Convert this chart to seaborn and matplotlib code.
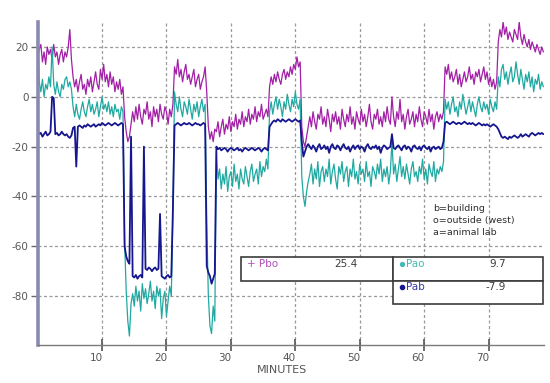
import numpy as np
import pandas as pd
import matplotlib
matplotlib.use("Agg")
import matplotlib.pyplot as plt
import seaborn as sns
from matplotlib.patches import Rectangle
from matplotlib.transforms import ScaledTranslation

# ---- data (one sample every 0.25 minute) ----
pbo = [
    15, 19, 21, 14, 18, 13, 20, 17, 19, 15, 21, 16, 18, 13, 17, 19, 14, 18, 16, 20, 27, 15,
    8, 4, 7, 2, 6, 9, 3, 5, 1, 7, 4, 8, 2, 6, 10, 5, 3,
    11, 7, 13, 6, 9, 4, 10, 5, 8, 2, 6, 3, 7, 1, 4,
    -8, -14, -18, -16, -11,
    -6, -10, -4, -9, -3, -8, -11, -5, -7, -2, -9, -6, -12, -4, -8, -5, -10, -3, -7, -9,
    -4, -6, -11, -5, -8, -3,
    12, 9, 15, 8, 11, 6, 10, 13, 7, 9, 5, 8, 11, 4, 7, 9, 3, 6, 8, 12,
    2, -12, -17, -14, -18, -13,
    -14, -10, -16, -12, -9, -15, -11, -13, -8, -14, -10, -12, -7, -13, -9, -11, -6, -12,
    -8, -10, -5, -11, -7, -9, -4, -10, -6, -8, -3, -9, -7, -5, -8,
    4, 8, 5, 9, 6, 10, 7, 5, 9, 11, 7, 10, 8, 12, 9, 13, 11, 16, 12, 14,
    -12, -18, -20, -16, -12,
    -8, -12, -6, -10, -13, -7, -9, -4, -11, -8,
    -12, -5, -9, -14, -7, -10, -6, -11, -8, -13,
    -5, -9, -12, -7, -10, -4, -11, -8, -13, -6,
    -9, -11, -5, -10, -7, -12, -8, -3, -10, -13,
    -7, -9, -5, -11, -8, -12, -6, -10, -4, -9,
    -11, 0, -8, -12, -6, -9, -1, -10, -7, -13,
    -8, -5, -11, -9, -6, -12, -7, -10, -4, -9,
    -12, -6, -8, -11, -5, -10, -7, -13, -8, -6,
    -10, -7, -9,
    -6, 12, 9, 13, 7, 10, 6, 8, 11, 5, 9, 4, 7, 10, 6, 8, 12, 7, 9, 5, 10,
    8, 11, 6, 9, 12, 7, 10, 5, 8, 4, 7, 3, 6,
    22, 27, 24, 30, 25, 28, 23, 26, 24, 22, 27, 25, 23, 30, 24, 21, 25, 22, 20, 23,
    19, 22, 20, 18, 21, 19, 17, 20, 18,
]

pao = [
    27, 6, 2, 7, 0, 5, 3, 8, 4, 20, 5, 1, 6, 2, 0, 5, 3, 7, 8, 4, 6, 3,
    -4, -8, -3, -7, -9, -5, -2, -6, -8, -4, -1, -6, -3, -7, -5, -2, -8, -4, 0, -5,
    -3, -6, -2, -7, -4, -8, -3, -6, -5, -9, -4, -6,
    -58, -78, -90, -96, -83,
    -79, -84, -76, -82, -78, -86, -75, -81, -77, -83, -79, -74, -82, -78, -85, -76,
    -80, -77, -89, -81, -78, -88, -82, -76, -80,
    -45,
    2, -3, -6, 0, -5, -8, -2, -4, -7, -1, -5, -9, -3, -6, -2, -8, -4, -1, -6, -3,
    -50, -80, -92, -95, -84, -90,
    -22, -33, -29, -37, -31, -35, -28, -38, -32, -30, -36, -27, -34, -31, -37, -29,
    -33, -35, -28, -32, -36, -30, -27, -34, -31, -29, -35, -26, -32, -28, -30, -25, -29,
    -6, -2, -7, -3, 0, -5, -1, -4, -8, -2, -5, 1, -3, -6, -1, -4, 2, -3, -5, -1,
    -32, -40, -44, -38, -34,
    -31, -27, -35, -29, -33, -26, -36, -30, -28, -34,
    -29, -32, -25, -35, -30, -27, -33, -37, -28, -31,
    -26, -34, -30, -28, -36, -29, -32, -25, -33, -30,
    -35, -27, -31, -29, -34, -26, -32, -30, -36, -28,
    -30, -33, -27, -31, -25, -34, -29, -32, -28, -35,
    -30, -18, -31, -27, -34, -29, -24, -32, -28, -33,
    -27, -31, -35, -29, -26, -32, -30, -34, -28, -31,
    -25, -33, -29, -35, -27, -30, -32, -26, -34, -29,
    -31, -28, -30,
    -26,
    -1, -5, -2, -7, -3, 0, -6, -4, -8, -2, -5, 1, -3, -7, -4, -1, -6, -2, -5, -8,
    -3, 0, -4, -6, -2, -5, -3, -7, -1, -4, -6, -2, -5,
    8, 4, 11, 13, 7, 10, 5, 9, 12, 6, 8, 14, 9, 5, 11, 7, 3, 9, 6, 10,
    4, 8, 2, 7, 5, 9, 3, 6, 4,
]

pab = [
    -13, -15, -14.5, -16, -15, -14, -15.5, -15, -14,
    0, -0.5,
    -15, -14.5, -15.5, -15, -14, -15, -15.5, -15, -16, -16.5, -15.5,
    -12.5, -12, -28, -12, -11.5, -12, -12.5, -11.5, -12, -11,
    -11.5, -12, -11.5, -11, -12, -11.5, -11, -11.5, -10.5, -11,
    -11.5, -11, -10.5, -11, -11.5, -11, -10.5, -11, -11.5, -11, -10.5, -11,
    -60, -64, -66, -67,
    -16,
    -72, -72.5, -71.5, -73, -72, -71.5, -72.5,
    -20,
    -69, -69.5, -68.5, -69, -70, -69, -68.5, -69.5, -69,
    -47,
    -72, -72.5, -73, -72, -71.5, -72.5, -72,
    -45,
    -11.5, -11, -10.5, -11, -11.5, -11, -10.5, -11, -11, -10.5,
    -11, -11.5, -11, -10.5, -11, -11, -11.5, -11, -10.5, -11,
    -68, -70.5, -72, -75, -73, -71,
    -20, -21, -20.5, -21.5, -21, -20.5, -21, -22, -21, -20.5,
    -21, -21.5, -21, -20.5, -21.5, -21, -22, -21, -20.5, -21,
    -21.5, -21, -20.5, -21, -21.5, -21, -20.5, -21, -22, -21, -20.5, -21, -21.5,
    -12, -11, -10, -9.5, -10, -9, -9.5, -10, -9, -9.5,
    -10, -9.5, -9, -9.5, -10, -9.5, -9, -9.5, -10, -9.5,
    -18, -24, -22, -20, -19,
    -20, -21, -19.5, -20.5, -22, -20, -19, -21, -20.5, -19.5,
    -21, -20, -22.5, -20, -19, -20.5, -21, -19.5, -20, -21.5,
    -20, -19, -20.5, -21, -20, -22, -20.5, -19.5, -21, -20,
    -19.5, -21, -20, -20.5, -22, -20, -19, -20.5, -21, -20,
    -20.5, -19.5, -21, -20, -22.5, -20.5, -19.5, -20, -21, -20.5,
    -20, -15, -20.5, -21, -20, -19.5, -20.5, -21.5, -20, -19.5,
    -21, -20, -20.5, -22, -20, -19.5, -20.5, -21, -20, -21.5,
    -20, -19.5, -20.5, -21, -20, -22, -20.5, -20, -21, -20.5,
    -20, -21, -20.5,
    -18,
    -10.5, -10, -10.5, -11, -10.5, -10, -10.5, -11, -10.5, -10.5,
    -11, -10.5, -10, -10.5, -11, -10.5, -11, -10.5, -11, -11.5,
    -11, -10.5, -11, -11.5, -11, -11.5, -11, -11.5, -12, -11.5, -11, -11.5, -12,
    -13, -14.5, -16, -16.5, -16, -16.5, -17, -16, -16.5, -16,
    -15.5, -16, -16.5, -16, -15, -16, -15.5, -15, -15.5, -16,
    -15, -14.5, -15, -15.5, -15, -14.5, -15, -14.5, -15,
]

series_names = ["Pbo", "Pao", "Pab"]
series_values = [pbo, pao, pab]
legend_values = ["25.4", "9.7", "-7.9"]
note_lines = ["b=building", "o=outside (west)", "a=animal lab"]
x_ticks = [10, 20, 30, 40, 50, 60, 70]
y_ticks = [-80, -60, -40, -20, 0, 20]

colors = {"Pbo": "#a21fa6", "Pao": "#1fa9a1", "Pab": "#16168e"}
widths = {"Pbo": 0.9, "Pao": 0.9, "Pab": 1.3}
label_colors = {"Pbo": "#b24cba", "Pao": "#45bab2", "Pab": "#3a3aa2"}

frames = []
for name, vals in zip(series_names, series_values):
    frames.append(pd.DataFrame({"minutes": np.arange(len(vals)) * 0.25,
                                "value": vals, "series": name}))
df = pd.concat(frames, ignore_index=True)

sns.set_theme(style="white")
plt.rcParams["font.family"] = ["DejaVu Sans"]
plt.rcParams["axes.unicode_minus"] = False

fig = plt.figure(figsize=(5.5, 3.83), dpi=100)
ax = fig.add_axes([0.0684, 0.0992, 0.9207, 0.8433])

for name in series_names:
    sub = df[df["series"] == name]
    sns.lineplot(data=sub, x="minutes", y="value", ax=ax, color=colors[name],
                 linewidth=widths[name], estimator=None, sort=False, legend=False)

ax.set_xlim(0, 78.6)
ax.set_ylim(-99.6, 30)
ax.set_xticks(x_ticks)
ax.set_yticks(y_ticks)
ax.set_ylabel("")
ax.set_xlabel("MINUTES", fontsize=8, color="#555555")
ax.xaxis.set_label_coords(0.4826, -0.062)

ax.grid(True, linestyle=(0, (2.4, 2.0)), color="#9a9a9a", linewidth=0.9)
ax.set_axisbelow(True)

for s in ["top", "right"]:
    ax.spines[s].set_visible(False)
ax.spines["left"].set_color("#8a8ab0")
ax.spines["left"].set_linewidth(2.6)
ax.spines["bottom"].set_color("#7a7a7a")
ax.spines["bottom"].set_linewidth(1.0)

ax.tick_params(axis="y", direction="out", length=5, width=1.0, color="#666666",
               labelsize=7.5, labelcolor="#555555", pad=1.5, left=True)
ax.tick_params(axis="x", direction="inout", length=8, width=1.2, color="#555555",
               labelsize=7.5, labelcolor="#555555", pad=2, bottom=True)
shift = ScaledTranslation(-0.06, 0, fig.dpi_scale_trans)
for lab in ax.get_xticklabels():
    lab.set_transform(lab.get_transform() + shift)

# ---- value table ----
def fx(px):
    return (px - 37.6) / 506.4

def fy(py):
    return (345 - py) / 323

box_kw = dict(transform=ax.transAxes, facecolor="white", edgecolor="#3c3c3c",
              linewidth=1.2, zorder=5, clip_on=False)
ax.add_patch(Rectangle((fx(241), fy(281)), fx(393) - fx(241), fy(257) - fy(281), **box_kw))
ax.add_patch(Rectangle((fx(393), fy(281)), fx(543) - fx(393), fy(257) - fy(281), **box_kw))
ax.add_patch(Rectangle((fx(393), fy(304)), fx(543) - fx(393), fy(281) - fy(304), **box_kw))

txt_kw = dict(transform=ax.transAxes, fontsize=7.5, va="center", zorder=6)
ax.text(fx(247), fy(264), "+ " + series_names[0], color=label_colors["Pbo"], ha="left", **txt_kw)
ax.text(fx(357), fy(264), legend_values[0], color="#3c3c3c", ha="right", **txt_kw)
ax.plot([fx(401.5)], [fy(264)], marker="o", markersize=2.8, color=label_colors["Pao"],
        transform=ax.transAxes, zorder=6, clip_on=False)
ax.text(fx(406), fy(264), series_names[1], color=label_colors["Pao"], ha="left", **txt_kw)
ax.text(fx(506), fy(264), legend_values[1], color="#3c3c3c", ha="right", **txt_kw)
ax.plot([fx(401.5)], [fy(287)], marker="o", markersize=3, color=colors["Pab"],
        transform=ax.transAxes, zorder=6, clip_on=False)
ax.text(fx(406), fy(287), series_names[2], color=label_colors["Pab"], ha="left", **txt_kw)
ax.text(fx(506), fy(287), legend_values[2], color="#3c3c3c", ha="right", **txt_kw)

for k, line in enumerate(note_lines):
    ax.text(fx(433), fy(208 + 12 * k), line, transform=ax.transAxes, fontsize=6.8,
            color="#2e2e2e", ha="left", va="center", zorder=6)

fig.savefig("out.png", dpi=100, facecolor="white")
